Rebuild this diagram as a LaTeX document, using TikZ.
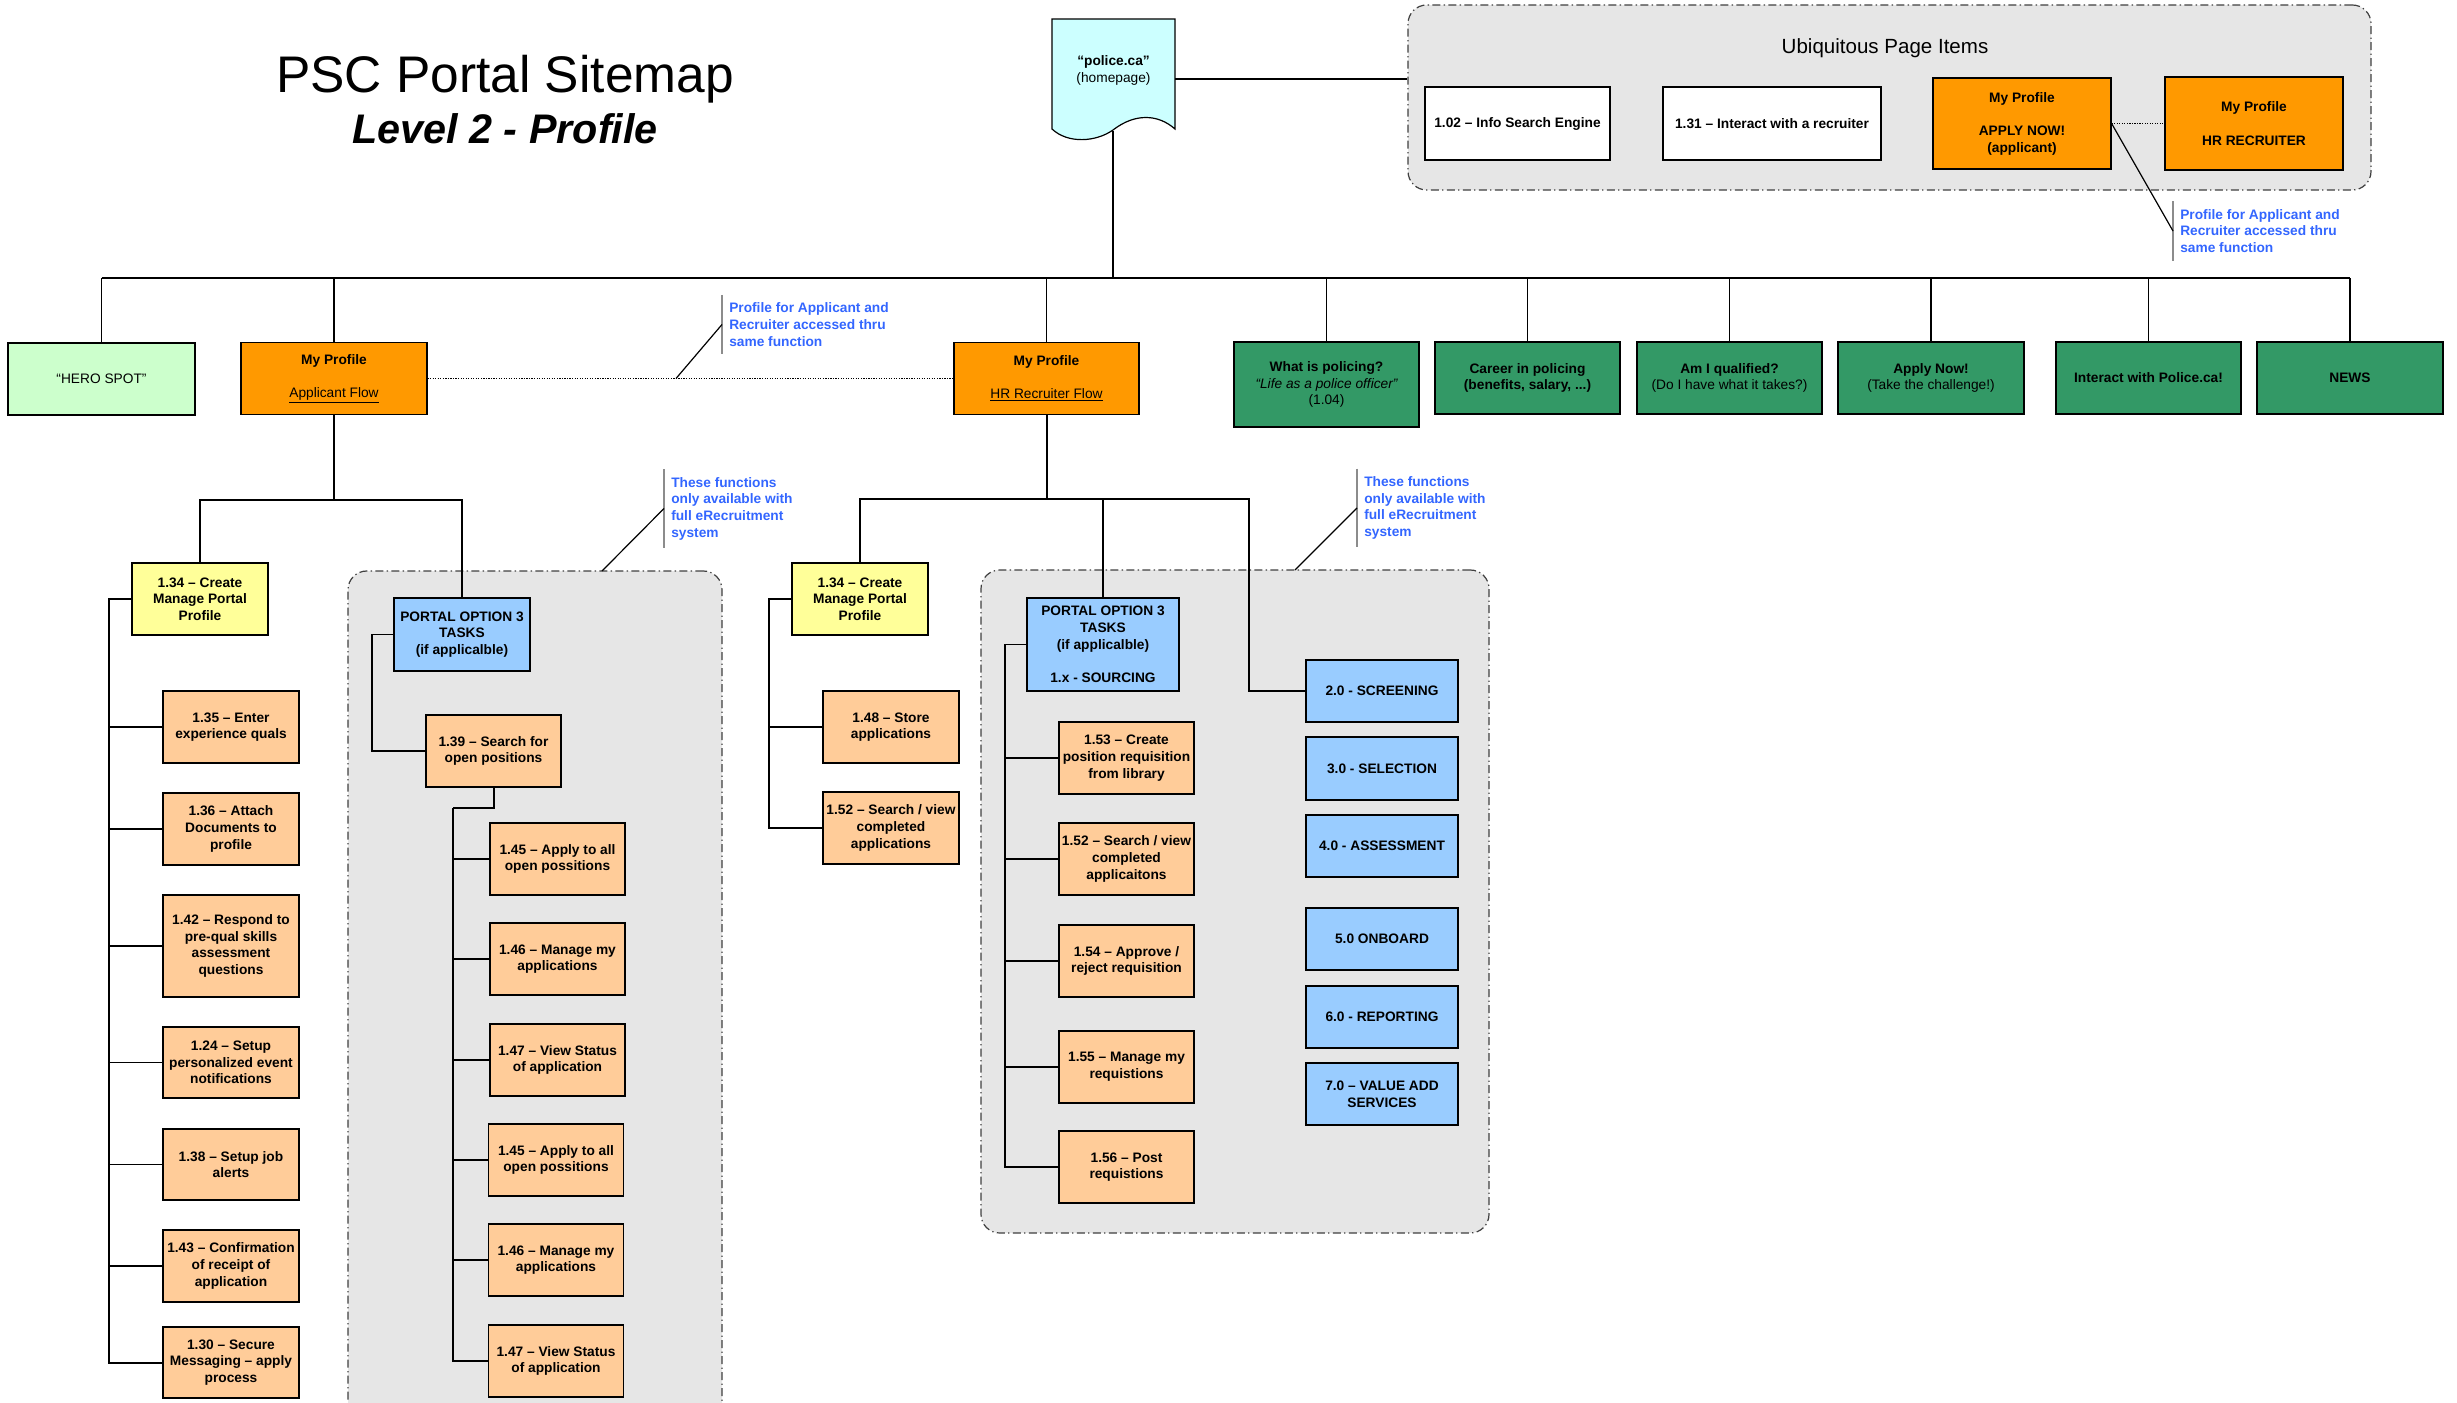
\documentclass[tikz,border=0pt]{standalone}
\usepackage{fontspec}
\setmainfont{Liberation Sans}
\usepackage{xcolor}
\definecolor{ProfileOrange}{HTML}{FF9900}
\definecolor{TaskPeach}{HTML}{FFCC99}
\definecolor{CreateYellow}{HTML}{FFFF99}
\definecolor{PortalBlue}{HTML}{99CCFF}
\definecolor{HeroGreen}{HTML}{CCFFCC}
\definecolor{PageGreen}{HTML}{339966}
\definecolor{HomeCyan}{HTML}{CCFFFF}
\definecolor{ScopeGray}{HTML}{E6E6E6}
\definecolor{NoteBlue}{HTML}{3366FF}

\begin{document}
\begin{tikzpicture}[x=0.75pt, y=-0.75pt, line width=0.9pt,
      every node/.append style={font=\fontsize{10.3}{12.5}\selectfont\bfseries, align=center, inner sep=0pt},
      sz/.style 2 args={minimum width=#1*0.75pt, minimum height=#2*0.75pt},
      box/.style={draw=black, line width=0.9pt},
      region/.style={draw=black!75, fill=ScopeGray, rounded corners=14pt, dash pattern=on 6pt off 2.5pt on 1pt off 2.5pt},
      note/.style={text=NoteBlue, align=left, inner xsep=5pt, inner ysep=5.5pt},
      notebar/.style={draw=black!45},
      trunk/.style={line width=1.5pt}]
      \tikzstyle{task} = [box, fill=TaskPeach]
      \tikzstyle{portal} = [box, fill=PortalBlue]
      \tikzstyle{create} = [box, fill=CreateYellow]
      \tikzstyle{profile} = [box, fill=ProfileOrange]
      \tikzstyle{page} = [box, fill=PageGreen]
      \useasboundingbox (0,0) rectangle (2457,1403);

      \node (title) [anchor=base, font=\fontsize{38.6}{44}\selectfont] at (505,92) {PSC Portal Sitemap};
      \node (subtitle) [anchor=base, font=\fontsize{31}{36}\selectfont\bfseries\itshape] at (505,143) {Level 2 - Profile};

      \node (ubiq) [region, sz={963}{185}] at (1889.5,97.5) {};
      \node (appregion) [region, sz={374}{860}] at (535,1001) {};
      \node (hrregion) [region, sz={508}{663}] at (1235,901.5) {};

      \draw[fill=HomeCyan] (1052,19) -- (1175,19) -- (1175,129) .. controls (1158,114) and (1135,113) .. (1113,130)
            .. controls (1096,142) and (1068,144) .. (1052,129) -- cycle;
      \node (homepage) [sz={123}{100}] at (1113.5,70.5) {“police.ca”\\{\mdseries (homepage)}};
      \coordinate (homelink) at (1175,79);
      \coordinate (homefoot) at (1113,131);

      \node (ubiqtitle) [anchor=base, font=\fontsize{15.4}{18}\selectfont] at (1885,53) {Ubiquitous Page Items};
      \node (infosearch) [box, fill=white, sz={185}{73}] at (1517.5,123.5) {1.02 – Info Search Engine};
      \node (recruiterchat) [box, fill=white, sz={218}{73}] at (1772,123.5) {1.31 – Interact with a recruiter};
      \node (applyprofile) [profile, sz={178}{91}] at (2022,123.5) {My Profile\\[12.5pt]APPLY NOW!\\(applicant)};
      \node (hrprofile) [profile, sz={178}{93}] at (2254,123.5) {My Profile\\[12.5pt]HR RECRUITER};
      \node (ubiqnote) [note, anchor=west] at (2173,231) {Profile for Applicant and\\Recruiter accessed thru\\same function};
      \draw[densely dotted] (applyprofile.east) -- (hrprofile.west);
      \draw[notebar] (ubiqnote.north west) -- (ubiqnote.south west);
      \draw (applyprofile.east) -- (ubiqnote.west);
      \draw (homelink) -- (homelink -| ubiq.west);

      \node (hero) [box, fill=HeroGreen, sz={187}{72}] at (101.5,379) {\mdseries “HERO SPOT”};
      \node (appflow) [profile, sz={186}{72}] at (334,378.5) {My Profile\\[12.5pt]{\mdseries\underline{Applicant Flow}}};
      \node (hrflow) [profile, sz={185}{72}] at (1046.5,378.5) {My Profile\\[12.5pt]{\mdseries\underline{HR Recruiter Flow}}};
      \node (policing) [page, sz={185}{85}] at (1326.5,384.5) {What is policing?\\{\mdseries\itshape “Life as a police officer”}\\{\mdseries (1.04)}};
      \node (career) [page, sz={185}{72}] at (1527.5,378) {Career in policing\\(benefits, salary, ...)};
      \node (qualified) [page, sz={185}{72}] at (1729.5,378) {Am I qualified?\\{\mdseries (Do I have what it takes?)}};
      \node (applynow) [page, sz={186}{72}] at (1931,378) {Apply Now!\\{\mdseries (Take the challenge!)}};
      \node (interactpolice) [page, sz={185}{72}] at (2148.5,378) {Interact with Police.ca!};
      \node (news) [page, sz={186}{72}] at (2350,378) {NEWS};

      \coordinate (bus) at (1113,278);
      \draw[trunk] (homefoot) -- (bus);
      \draw[trunk] (hero.north |- bus) -- (news.north |- bus);
      \draw (hero.north) -- (hero.north |- bus);
      \draw (appflow.north) -- (appflow.north |- bus);
      \draw (hrflow.north) -- (hrflow.north |- bus);
      \draw (policing.north) -- (policing.north |- bus);
      \draw (career.north) -- (career.north |- bus);
      \draw (qualified.north) -- (qualified.north |- bus);
      \draw (applynow.north) -- (applynow.north |- bus);
      \draw (interactpolice.north) -- (interactpolice.north |- bus);
      \draw (news.north) -- (news.north |- bus);

      \node (profilenote) [note, anchor=west] at (722,324.5) {Profile for Applicant and\\Recruiter accessed thru\\same function};
      \coordinate (profilelink) at (676,378.5);
      \draw[densely dotted] (appflow.east) -- (hrflow.west);
      \draw[notebar] (profilenote.north west) -- (profilenote.south west);
      \draw (profilelink) -- (profilenote.west);

      \node (appcreate) [create, sz={136}{72}] at (200,599) {1.34 – Create\\Manage Portal\\Profile};
      \node (enterquals) [task, sz={136}{72}] at (231,727) {1.35 – Enter\\experience quals};
      \node (attachdocs) [task, sz={136}{72}] at (231,829) {1.36 – Attach\\Documents to\\profile};
      \node (prequal) [task, sz={136}{102}] at (231,946) {1.42 – Respond to\\pre-qual skills\\assessment\\questions};
      \node (notifications) [task, sz={136}{71}] at (231,1062.5) {1.24 – Setup\\personalized event\\notifications};
      \node (jobalerts) [task, sz={136}{71}] at (231,1164.5) {1.38 – Setup job\\alerts};
      \node (confirmation) [task, sz={136}{72}] at (231,1266) {1.43 – Confirmation\\of receipt of\\application};
      \node (securemsg) [task, sz={136}{71}] at (231,1362.5) {1.30 – Secure\\Messaging – apply\\process};

      \node (appportal) [portal, sz={136}{73}] at (462,634.5) {PORTAL OPTION 3\\TASKS\\(if applicalble)};
      \node (searchpos) [task, sz={135}{72}] at (493.5,751) {1.39 – Search for\\open positions};
      \node (applyall) [task, sz={135}{72}] at (557.5,859) {1.45 – Apply to all\\open possitions};
      \node (managemy) [task, sz={135}{72}] at (557.5,959) {1.46 – Manage my\\applications};
      \node (viewstatus) [task, sz={135}{72}] at (557.5,1060) {1.47 – View Status\\of application};
      \node (applyalltwo) [task, sz={135}{72}] at (556,1160) {1.45 – Apply to all\\open possitions};
      \node (managemytwo) [task, sz={135}{72}] at (556,1260) {1.46 – Manage my\\applications};
      \node (viewstatustwo) [task, sz={135}{72}] at (556,1361) {1.47 – View Status\\of application};

      \node (appnote) [note, anchor=west] at (664,508.5) {These functions\\only available with\\full eRecruitment\\system};
      \coordinate (appcorner) at (602,571);
      \draw[notebar] (appnote.north west) -- (appnote.south west);
      \draw (appcorner) -- (appnote.west);

      \coordinate (appfork) at (334,500);
      \coordinate (appspine) at (109,599);
      \coordinate (portalspine) at (372,634.5);
      \coordinate (searchspine) at (453,808);
      \draw[trunk] (appflow.south) -- (appfork);
      \draw (appcreate.north) |- (appfork) -| (appportal.north);
      \draw[trunk] (appcreate.west) -- (appspine) |- (securemsg.west);
      \draw (enterquals.west) -- (enterquals.west -| appspine);
      \draw (attachdocs.west) -- (attachdocs.west -| appspine);
      \draw (prequal.west) -- (prequal.west -| appspine);
      \draw (notifications.west) -- (notifications.west -| appspine);
      \draw (jobalerts.west) -- (jobalerts.west -| appspine);
      \draw (confirmation.west) -- (confirmation.west -| appspine);
      \draw (appportal.west) -- (portalspine) |- (searchpos.west);
      \draw[trunk] (searchpos.south) |- (searchspine);
      \draw (searchspine) |- (viewstatustwo.west);
      \draw (applyall.west) -- (applyall.west -| searchspine);
      \draw (managemy.west) -- (managemy.west -| searchspine);
      \draw (viewstatus.west) -- (viewstatus.west -| searchspine);
      \draw (applyalltwo.west) -- (applyalltwo.west -| searchspine);
      \draw (managemytwo.west) -- (managemytwo.west -| searchspine);

      \node (hrcreate) [create, sz={136}{72}] at (860,599) {1.34 – Create\\Manage Portal\\Profile};
      \node (storeapps) [task, sz={136}{72}] at (891,727) {1.48 – Store\\applications};
      \node (searchview) [task, sz={136}{72}] at (891,828) {1.52 – Search / view\\completed\\applications};

      \node (hrportal) [portal, sz={152}{93}] at (1103,644.5) {PORTAL OPTION 3\\TASKS\\(if applicalble)\\[12.5pt]1.x - SOURCING};
      \node (requisition) [task, sz={135}{72}] at (1126.5,758) {1.53 – Create\\position requisition\\from library};
      \node (searchviewtwo) [task, sz={135}{72}] at (1126.5,859) {1.52 – Search / view\\completed\\applicaitons};
      \node (approvereq) [task, sz={135}{72}] at (1126.5,961) {1.54 – Approve /\\reject requisition};
      \node (managereq) [task, sz={135}{72}] at (1126.5,1067) {1.55 – Manage my\\requistions};
      \node (postreq) [task, sz={135}{72}] at (1126.5,1167) {1.56 – Post\\requistions};

      \node (screening) [portal, sz={152}{62}] at (1382,691) {2.0 - SCREENING};
      \node (selection) [portal, sz={152}{63}] at (1382,768.5) {3.0 - SELECTION};
      \node (assessment) [portal, sz={152}{62}] at (1382,846) {4.0 - ASSESSMENT};
      \node (onboard) [portal, sz={152}{62}] at (1382,939) {5.0 ONBOARD};
      \node (reporting) [portal, sz={152}{62}] at (1382,1017) {6.0 - REPORTING};
      \node (valueadd) [portal, sz={152}{62}] at (1382,1094) {7.0 – VALUE ADD\\SERVICES};

      \node (hrnote) [note, anchor=west] at (1357,508) {These functions\\only available with\\full eRecruitment\\system};
      \coordinate (hrcorner) at (1295,570);
      \draw[notebar] (hrnote.north west) -- (hrnote.south west);
      \draw (hrcorner) -- (hrnote.west);

      \coordinate (hrfork) at (1046.5,499);
      \coordinate (hrturn) at (1249,691);
      \coordinate (hrspine) at (769,599);
      \coordinate (sourcespine) at (1005,644.5);
      \draw[trunk] (hrflow.south) -- (hrfork);
      \draw (hrcreate.north) |- (hrfork) -| (hrportal.north);
      \draw (hrfork) -| (hrturn) -- (screening.west);
      \draw (hrcreate.west) -- (hrspine) |- (searchview.west);
      \draw (storeapps.west) -- (storeapps.west -| hrspine);
      \draw (hrportal.west) -- (sourcespine) |- (postreq.west);
      \draw (requisition.west) -- (requisition.west -| sourcespine);
      \draw (searchviewtwo.west) -- (searchviewtwo.west -| sourcespine);
      \draw (approvereq.west) -- (approvereq.west -| sourcespine);
      \draw (managereq.west) -- (managereq.west -| sourcespine);
  \end{tikzpicture}
\end{document}
